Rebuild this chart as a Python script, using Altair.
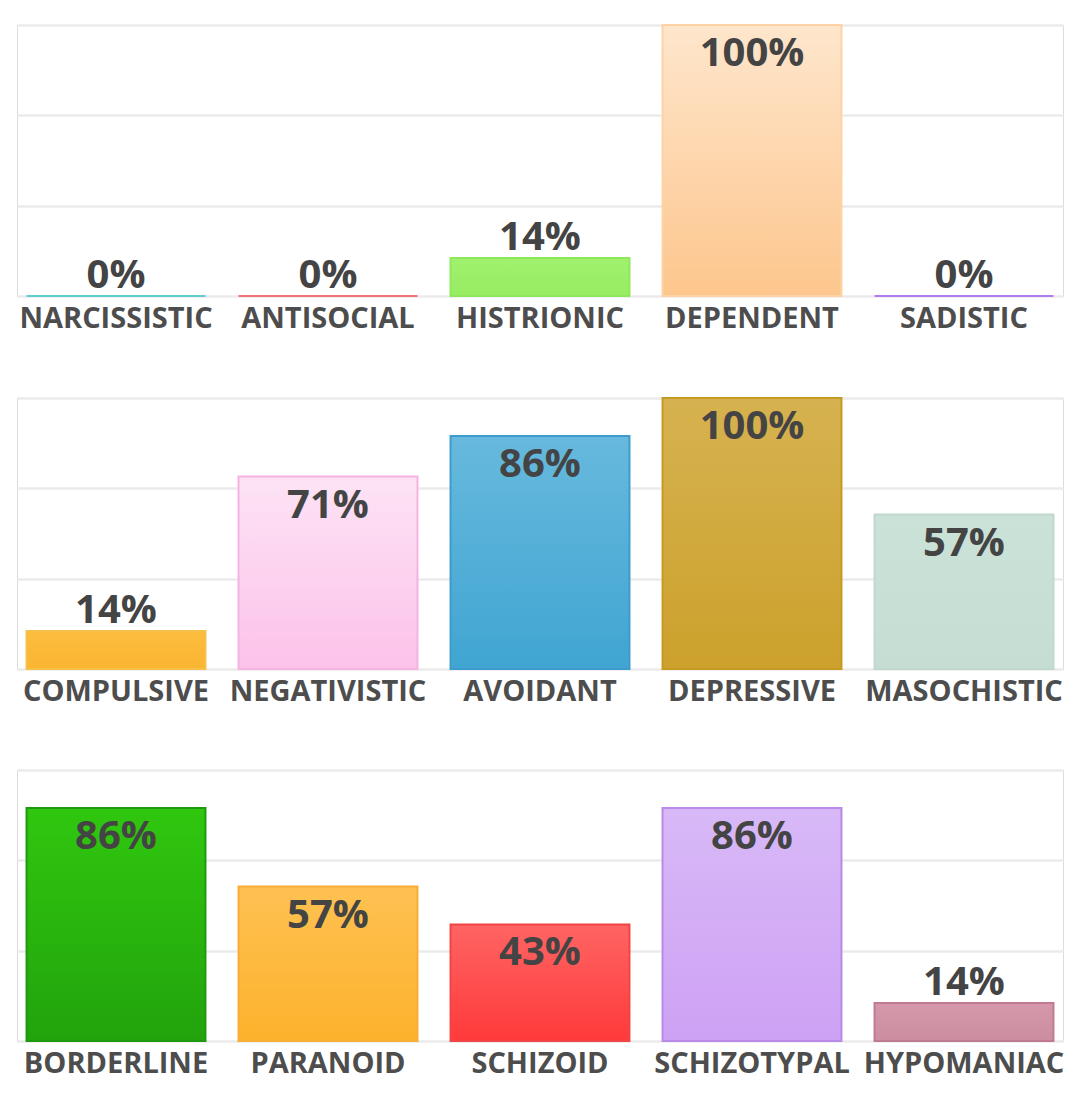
import altair as alt

# ---- data ----
row1_names = ["NARCISSISTIC", "ANTISOCIAL", "HISTRIONIC", "DEPENDENT", "SADISTIC"]
row1_values = [0, 0, 14, 100, 0]
row1_top = ["#5ccfca", "#f27272", "#a0f26e", "#fee6cc", "#b07cf2"]
row1_bottom = ["#5ccfca", "#f27272", "#96ec62", "#fdc68d", "#b07cf2"]
row1_stroke = ["#5ccfca", "#f27272", "#8fe85c", "#fdd3a6", "#b07cf2"]

row2_names = ["COMPULSIVE", "NEGATIVISTIC", "AVOIDANT", "DEPRESSIVE", "MASOCHISTIC"]
row2_values = [14, 71, 86, 100, 57]
row2_top = ["#fcbd3e", "#fde3f5", "#67b9dd", "#d6b250", "#cbe2d8"]
row2_bottom = ["#fbb531", "#fcc2ea", "#40a5d2", "#cca12c", "#c6ddd3"]
row2_stroke = ["#f5c04a", "#f6b3e2", "#3d9ccb", "#c59b26", "#c0d8ce"]

row3_names = ["BORDERLINE", "PARANOID", "SCHIZOID", "SCHIZOTYPAL", "HYPOMANIAC"]
row3_values = [86, 57, 43, 86, 14]
row3_top = ["#30c70f", "#fec152", "#ff6464", "#d8b9f7", "#d597aa"]
row3_bottom = ["#22a30c", "#fdb22c", "#ff3a3a", "#cda1f4", "#cc8da1"]
row3_stroke = ["#1f9a10", "#f8ae35", "#f24444", "#b98ae8", "#c07b93"]

TEXT = "#444444"
FONT = "Open Sans"


def make_records(names, values, tops, bottoms, strokes):
    recs = []
    for n, v, t, b, s in zip(names, values, tops, bottoms, strokes):
        recs.append({
            "name": n,
            "value": v,
            "label": f"{v}%",
            "inside": v > 25,
            "grad": {
                "gradient": "linear", "x1": 0, "y1": 0, "x2": 0, "y2": 1,
                "stops": [{"offset": 0, "color": t}, {"offset": 1, "color": b}],
            },
            "stroke": s,
        })
    return recs


def panel(names, values, tops, bottoms, strokes):
    data = alt.Data(values=make_records(names, values, tops, bottoms, strokes))
    x = alt.X("name:N", sort=names, title=None,
              scale=alt.Scale(paddingInner=0.156, paddingOuter=0.045),
              axis=alt.Axis(labelAngle=0, domain=False, ticks=False, grid=False,
                            labelPadding=8, labelFontSize=29, labelFont=FONT,
                            labelFontWeight="bold", labelColor="#4d4d4d",
                            labelOverlap=False, labelBound=False, labelLimit=0))
    y = alt.Y("value:Q", title=None,
              scale=alt.Scale(domain=[0, 100], nice=False),
              axis=alt.Axis(values=[0, 100 / 3, 200 / 3, 100], labels=False,
                            ticks=False, domain=False, grid=True,
                            gridColor="#ebebeb", gridWidth=2.5, gridCap="butt"))
    base = alt.Chart(data)
    bars = base.mark_bar(strokeWidth=2).encode(
        x=x, y=y,
        fill=alt.Fill("grad:N", scale=None),
        stroke=alt.Stroke("stroke:N", scale=None),
    )
    txt_in = base.transform_filter("datum.inside").mark_text(
        font=FONT, fontWeight="bold", fontSize=40, color=TEXT,
        baseline="alphabetic", dy=41,
    ).encode(x=alt.X("name:N", sort=names), y=alt.Y("value:Q"), text="label:N")
    txt_out = base.transform_filter("!datum.inside").mark_text(
        font=FONT, fontWeight="bold", fontSize=40, color=TEXT,
        baseline="alphabetic", dy=-8,
    ).encode(x=alt.X("name:N", sort=names), y=alt.Y("value:Q"), text="label:N")
    return alt.layer(bars, txt_in, txt_out).properties(width=1046, height=271)


chart = alt.vconcat(
    panel(row1_names, row1_values, row1_top, row1_bottom, row1_stroke),
    panel(row2_names, row2_values, row2_top, row2_bottom, row2_stroke),
    panel(row3_names, row3_values, row3_top, row3_bottom, row3_stroke),
    spacing=62,
).properties(
    padding={"left": 8, "top": 15, "right": 5, "bottom": 5}
).configure_view(strokeWidth=0, stroke="transparent", fill="white"
).configure_axis(domain=False, ticks=False).configure(background="white")

chart.save("out.html", embed_options={"renderer": "svg", "actions": False})
